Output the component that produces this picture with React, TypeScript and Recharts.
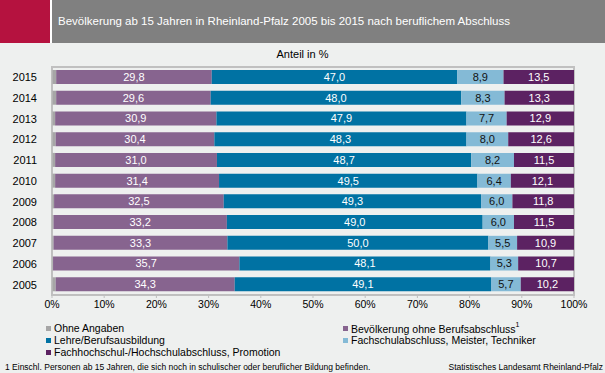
import React from 'react';
import { BarChart, Bar, XAxis, YAxis, LabelList, ReferenceArea } from 'recharts';

const years = ['2015', '2014', '2013', '2012', '2011', '2010', '2009', '2008', '2007', '2006', '2005'];
const ohneAngaben = [0.8, 0.8, 0.6, 0.7, 0.6, 0.6, 0.4, 0.3, 0.3, 0.2, 0.7];
const ohneBerufsabschluss = [29.8, 29.6, 30.9, 30.4, 31.0, 31.4, 32.5, 33.2, 33.3, 35.7, 34.3];
const lehre = [47.0, 48.0, 47.9, 48.3, 48.7, 49.5, 49.3, 49.0, 50.0, 48.1, 49.1];
const fachschul = [8.9, 8.3, 7.7, 8.0, 8.2, 6.4, 6.0, 6.0, 5.5, 5.3, 5.7];
const hochschul = [13.5, 13.3, 12.9, 12.6, 11.5, 12.1, 11.8, 11.5, 10.9, 10.7, 10.2];
const xTicks = [0, 10, 20, 30, 40, 50, 60, 70, 80, 90, 100];

const data = years.map((y, i) => ({
  year: y,
  ohne: ohneAngaben[i],
  bev: ohneBerufsabschluss[i],
  lehre: lehre[i],
  fach: fachschul[i],
  hoch: hochschul[i],
}));

const C = {
  ohne: '#a6a6a6',
  bev: '#87648f',
  lehre: '#0072a3',
  fach: '#84bad6',
  hoch: '#5c2262',
};

const FONT = '"Liberation Sans", Arial, sans-serif';
const fmt = (v: any) => Number(v).toFixed(1).replace('.', ',');

const legendItems = [
  { label: 'Ohne Angaben', color: C.ohne, x: 46, y: 328 },
  { label: 'Bevölkerung ohne Berufsabschluss', color: C.bev, x: 343, y: 328, sup: true },
  { label: 'Lehre/Berufsausbildung', color: C.lehre, x: 46, y: 340 },
  { label: 'Fachschulabschluss, Meister, Techniker', color: C.fach, x: 343, y: 340 },
  { label: 'Fachhochschul-/Hochschulabschluss, Promotion', color: C.hoch, x: 46, y: 352 },
];

export default function App() {
  return (
    <div style={{ position: 'absolute', left: 0, top: 0, width: 605, height: 373, background: '#eef0ef', fontFamily: FONT, overflow: 'hidden' }}>
      <div style={{ position: 'absolute', left: 0, top: 0, width: 50, height: 43, background: '#b5123f' }} />
      <div style={{ position: 'absolute', left: 50, top: 0, width: 2, height: 43, background: '#ffffff' }} />
      <div style={{ position: 'absolute', left: 52, top: 0, width: 553, height: 43, background: '#808080' }} />
      <div style={{ position: 'absolute', left: 58, top: 14, fontSize: 11.5, color: '#ffffff', whiteSpace: 'nowrap', lineHeight: '14px' }}>
        Bevölkerung ab 15 Jahren in Rheinland-Pfalz 2005 bis 2015 nach beruflichem Abschluss
      </div>
      <div style={{ position: 'absolute', left: 0, width: 605, top: 47, textAlign: 'center', fontSize: 11, color: '#000', lineHeight: '14px' }}>
        Anteil in %
      </div>
      <div style={{ position: 'absolute', left: 0, top: 0 }}>
        <BarChart
          width={605}
          height={373}
          data={data}
          layout="vertical"
          margin={{ top: 67, right: 31, bottom: 58, left: 0 }}
          barSize={14}
        >
          <XAxis
            type="number"
            domain={[0, 100]}
            ticks={xTicks}
            tickFormatter={(v) => `${v}%`}
            tick={{ fontSize: 10.5, fill: '#000', fontFamily: FONT }}
            tickSize={3}
            tickMargin={3}
            axisLine={{ stroke: '#bfbfbf' }}
            tickLine={{ stroke: '#bfbfbf' }}
            height={20}
            interval={0}
          />
          <YAxis
            type="category"
            dataKey="year"
            width={52}
            tick={{ fontSize: 11, fill: '#000', fontFamily: FONT }}
            tickLine={false}
            tickMargin={9}
            axisLine={{ stroke: '#bfbfbf' }}
          />
          <Bar dataKey="ohne" stackId="a" fill={C.ohne} isAnimationActive={false} />
          <Bar dataKey="bev" stackId="a" fill={C.bev} isAnimationActive={false}>
            <LabelList dataKey="bev" position="center" formatter={fmt} fill="#ffffff" fontSize={11} fontFamily={FONT} />
          </Bar>
          <Bar dataKey="lehre" stackId="a" fill={C.lehre} isAnimationActive={false}>
            <LabelList dataKey="lehre" position="center" formatter={fmt} fill="#ffffff" fontSize={11} fontFamily={FONT} />
          </Bar>
          <Bar dataKey="fach" stackId="a" fill={C.fach} isAnimationActive={false}>
            <LabelList dataKey="fach" position="center" formatter={fmt} fill="#111111" fontSize={11} fontFamily={FONT} />
          </Bar>
          <Bar dataKey="hoch" stackId="a" fill={C.hoch} isAnimationActive={false}>
            <LabelList dataKey="hoch" position="center" formatter={fmt} fill="#ffffff" fontSize={11} fontFamily={FONT} />
          </Bar>
          <ReferenceArea x1={0} x2={100} fill="none" stroke="#c0c0c0" strokeWidth={2} />
        </BarChart>
      </div>
      {legendItems.map((it) => (
        <div key={it.label} style={{ position: 'absolute', left: it.x, top: it.y - 7, height: 14, display: 'flex', alignItems: 'center', whiteSpace: 'nowrap', fontSize: 10.5, color: '#000' }}>
          <span style={{ display: 'inline-block', width: 5, height: 5, background: it.color, marginRight: 3 }} />
          <span>
            {it.label}
            {it.sup ? <sup style={{ fontSize: 7, position: 'relative', top: -1 }}>1</sup> : null}
          </span>
        </div>
      ))}
      <div style={{ position: 'absolute', left: 5, top: 362, fontSize: 8.5, color: '#000', whiteSpace: 'nowrap', lineHeight: '10px' }}>
        1 Einschl. Personen ab 15 Jahren, die sich noch in schulischer oder beruflicher Bildung befinden.
      </div>
      <div style={{ position: 'absolute', right: 2, top: 362, fontSize: 8.5, color: '#000', whiteSpace: 'nowrap', lineHeight: '10px' }}>
        Statistisches Landesamt Rheinland-Pfalz
      </div>
    </div>
  );
}
